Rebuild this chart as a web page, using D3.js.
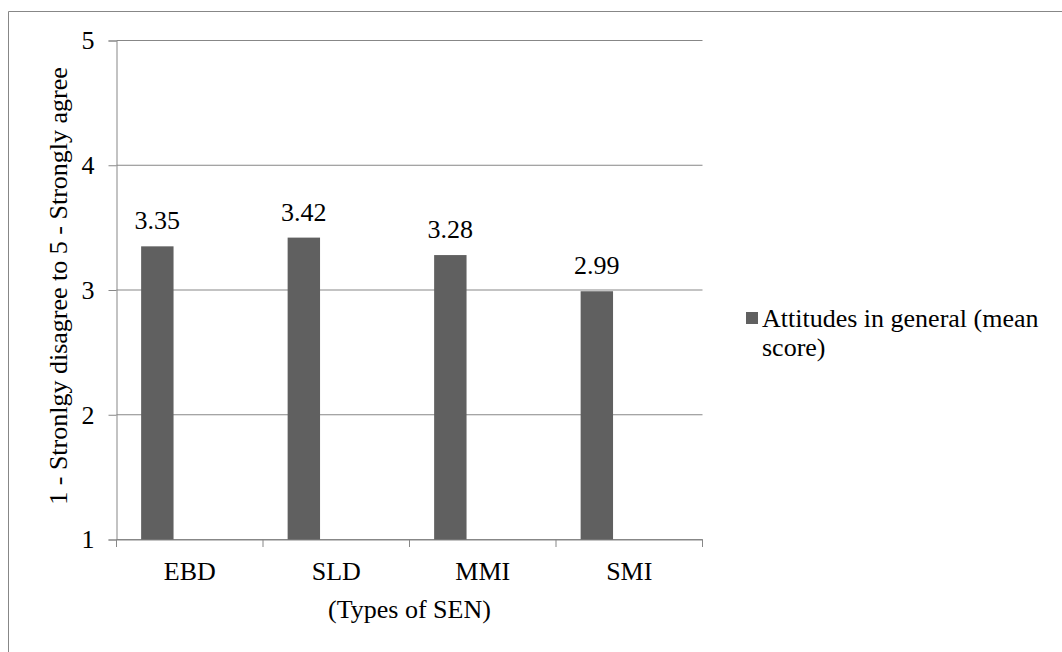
<!DOCTYPE html>
<html>
<head>
<meta charset="utf-8">
<script src="https://cdn.jsdelivr.net/npm/d3@7"></script>
<style>
  html, body { margin: 0; padding: 0; background: #fff; }
  svg { display: block; }
</style>
</head>
<body>
<svg id="chart" width="1062" height="652"></svg>
<script>
const categories = ["EBD", "SLD", "MMI", "SMI"];
const values = [3.35, 3.42, 3.28, 2.99];
const yTicks = [1, 2, 3, 4, 5];
const seriesName = ["Attitudes in general (mean", "score)"];
const slots = ["s1", "s2", "s3"];
const yTitle = "1 - Stronlgy disagree to 5 - Strongly agree";
const xTitle = "(Types of SEN)";

const svg = d3.select("#chart");
const gray = "#878787";
const barColor = "#606060";
const fs = 26;
const serif = '"Liberation Serif"';

function serifText(sel) {
  sel.style("font-family", serif).style("font-size", fs + "px").style("fill", "#000");
}

// outer frame (top and left)
svg.append("line").attr("x1", 8.5).attr("x2", 1062).attr("y1", 11.5).attr("y2", 11.5).attr("stroke", gray);
svg.append("line").attr("x1", 8.5).attr("x2", 8.5).attr("y1", 11.5).attr("y2", 652).attr("stroke", gray);

const x = d3.scaleBand().domain(categories).range([116.5, 702.5]).padding(0);
const xs = d3.scaleBand().domain(slots).range([0, x.bandwidth()]).paddingInner(0).paddingOuter(0.76);
const y = d3.scaleLinear().domain([1, 5]).range([539.5, 40.5]);

// gridlines
svg.append("g").selectAll("line").data(yTicks).join("line")
  .attr("x1", 116.5).attr("x2", 702.5)
  .attr("y1", d => y(d)).attr("y2", d => y(d))
  .attr("stroke", gray);

// y axis
const yAxis = svg.append("g").attr("transform", "translate(116.5,0)")
  .call(d3.axisLeft(y).tickValues(yTicks).tickSize(8).tickPadding(14).tickFormat(d3.format("d")));
yAxis.select(".domain").attr("stroke", gray);
yAxis.selectAll(".tick line").attr("stroke", gray);
yAxis.selectAll(".tick text").call(serifText);

// x axis
const xAxis = svg.append("g").attr("transform", "translate(0,539.5)")
  .call(d3.axisBottom(x).tickSize(0).tickPadding(22));
xAxis.select(".domain").attr("stroke", gray);
xAxis.selectAll(".tick text").call(serifText);
const edges = categories.map(c => x(c)).concat([x(categories[categories.length - 1]) + x.bandwidth()]);
svg.append("g").selectAll("line").data(edges).join("line")
  .attr("x1", d => d).attr("x2", d => d)
  .attr("y1", 539.5).attr("y2", 547)
  .attr("stroke", gray);

// bars
svg.append("g").selectAll("rect").data(values).join("rect")
  .attr("x", (d, i) => x(categories[i]) + xs("s1"))
  .attr("width", xs.bandwidth())
  .attr("y", d => y(d))
  .attr("height", d => y(1) - y(d))
  .attr("fill", barColor);

// data labels
svg.append("g").selectAll("text").data(values).join("text")
  .attr("x", (d, i) => x(categories[i]) + xs("s1") + xs.bandwidth() / 2)
  .attr("y", d => y(d) - 17)
  .attr("text-anchor", "middle")
  .call(serifText)
  .text(d => d.toFixed(2));

// axis titles
svg.append("text")
  .attr("x", (116.5 + 702.5) / 2).attr("y", 618)
  .attr("text-anchor", "middle")
  .call(serifText)
  .text(xTitle);

svg.append("text")
  .attr("transform", "translate(67,286) rotate(-90)")
  .attr("text-anchor", "middle")
  .call(serifText)
  .text(yTitle);

// legend
const lg = svg.append("g");
lg.append("rect").attr("x", 746).attr("y", 312).attr("width", 12).attr("height", 12).attr("fill", barColor);
lg.selectAll("text").data(seriesName).join("text")
  .attr("x", 762).attr("y", (d, i) => 327 + i * 29)
  .call(serifText)
  .text(d => d);
</script>
</body>
</html>
